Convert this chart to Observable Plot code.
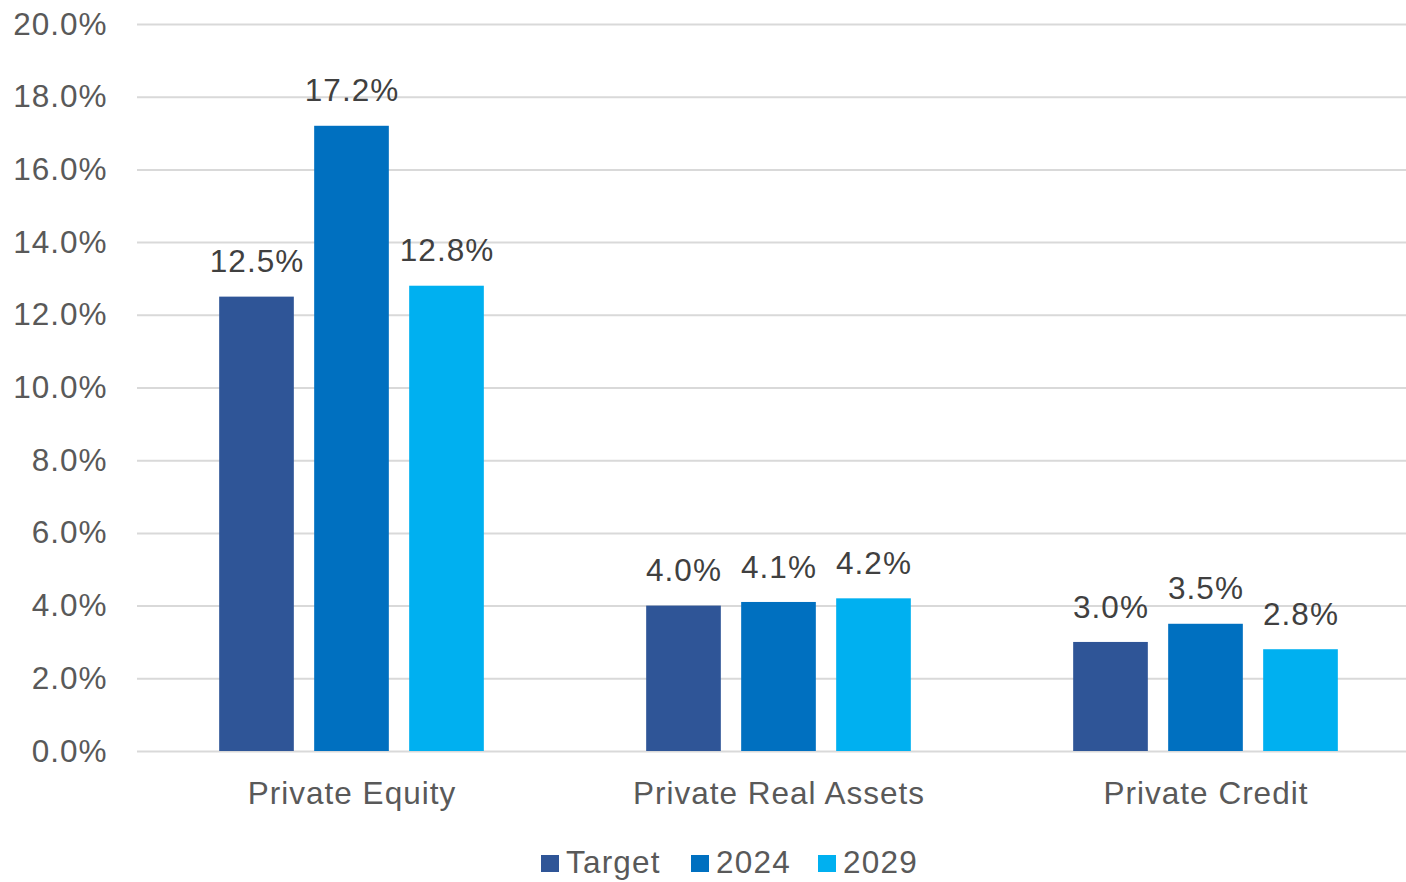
<!DOCTYPE html>
<html>
<head>
<meta charset="utf-8">
<script src="https://cdn.jsdelivr.net/npm/d3@7"></script>
<script src="https://cdn.jsdelivr.net/npm/@observablehq/plot@0.6"></script>
<style>
  html, body { margin: 0; padding: 0; background: #fff; overflow: hidden; }
  body { width: 1406px; height: 882px; font-family: "Liberation Sans", Arial, sans-serif; }
  #chart svg { display: block; }
  #chart svg text { letter-spacing: 1px; }
  #legend { position: relative; height: 47px; }
  #legend .item { position: absolute; top: 4px; height: 47px; display: flex; align-items: center; }
  #legend .sw { width: 18px; height: 17px; margin-right: 7px; margin-top: 2px; }
  #legend .lab { font-size: 31.5px; letter-spacing: 1.2px; color: #595959; line-height: 47px; }
</style>
</head>
<body>
<div id="chart"></div>
<div id="legend"></div>
<script>
const categories = ["Private Equity", "Private Real Assets", "Private Credit"];
const seriesNames = ["Target", "2024", "2029"];
const targetValues = [0.125, 0.040, 0.030];
const y2024Values = [0.172, 0.041, 0.035];
const y2029Values = [0.128, 0.042, 0.028];
const seriesColors = ["#2F5597", "#0070C0", "#00B0F0"];
const yTicks = [0, 0.02, 0.04, 0.06, 0.08, 0.10, 0.12, 0.14, 0.16, 0.18, 0.20];

const seriesValues = [targetValues, y2024Values, y2029Values];
const rows = [];
seriesNames.forEach((s, si) => {
  categories.forEach((c, ci) => rows.push({category: c, series: s, value: seriesValues[si][ci]}));
});

const fmt = d3.format(".1%");
const bandStep = (1419 - 137) / categories.length;
const barW = 75, barStep = 95;
const inset = (bandStep - barW) / 2;

const barMarks = [];
seriesNames.forEach((s, si) => {
  const data = rows.filter(r => r.series === s);
  const off = (si - 1) * barStep;
  barMarks.push(Plot.barY(data, {x: "category", y: "value", fill: seriesColors[si], insetLeft: inset, insetRight: inset, dx: off}));
  barMarks.push(Plot.text(data, {x: "category", y: "value", text: d => fmt(d.value), dx: off, dy: -35, fill: "#404040", fontSize: 31.5}));
});

const chart = Plot.plot({
  width: 1406,
  height: 835,
  marginLeft: 137,
  marginRight: 0,
  marginTop: 24,
  marginBottom: 84,
  style: {fontFamily: '"Liberation Sans", Arial, sans-serif', background: "#fff", overflow: "visible"},
  x: {domain: categories, range: [137, 1419], padding: 0, label: null},
  y: {domain: [0, 0.2], label: null},
  marks: [
    Plot.ruleY(yTicks, {stroke: "#D9D9D9", strokeWidth: 2}),
    ...barMarks,
    Plot.axisY(yTicks, {tickSize: 0, tickPadding: 30, tickFormat: fmt, fontSize: 31.5, fill: "#595959", label: null}),
    Plot.axisX({tickSize: 0, tickPadding: 30, fontSize: 31.5, fill: "#595959", label: null})
  ]
});
document.getElementById("chart").appendChild(chart);

const legendPos = [541, 691, 818];
const legend = document.getElementById("legend");
seriesNames.forEach((s, i) => {
  const item = document.createElement("div");
  item.className = "item";
  item.style.left = legendPos[i] + "px";
  const sw = document.createElement("div");
  sw.className = "sw";
  sw.style.background = seriesColors[i];
  const lab = document.createElement("span");
  lab.className = "lab";
  lab.textContent = s;
  item.appendChild(sw);
  item.appendChild(lab);
  legend.appendChild(item);
});
</script>
</body>
</html>
